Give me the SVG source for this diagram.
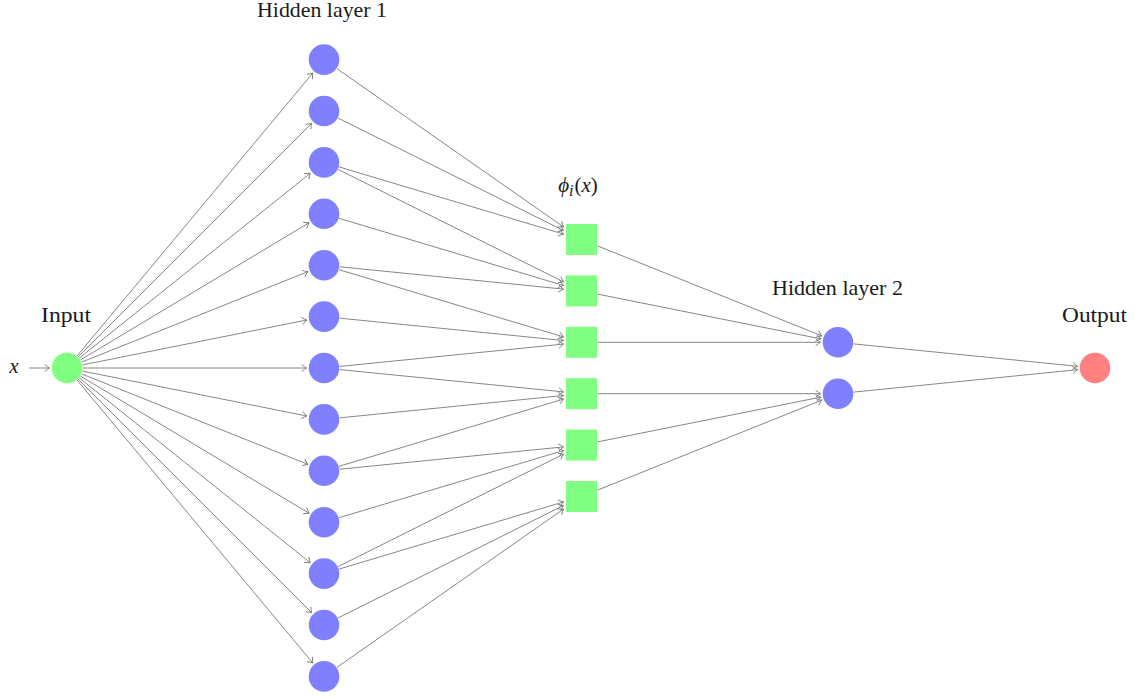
<svg xmlns="http://www.w3.org/2000/svg" width="1139" height="697" viewBox="0 0 1139 697">
<style>
.e{stroke:#787878;stroke-width:0.9;fill:none;marker-end:url(#ar)}
.h{fill:#8080ff}
.sq{fill:#80ff80}
.in{fill:#80ff80}
.out{fill:#ff8080}
.lbl{font-family:"Liberation Serif","DejaVu Serif",serif;font-size:21px;fill:#1a1a1a;text-anchor:middle}
</style>
<defs>
<marker id="ar" markerUnits="userSpaceOnUse" orient="auto" refX="0" refY="0" markerWidth="10" markerHeight="10" overflow="visible">
<path d="M-4.5,-3.3 Q-1.6,-0.9 0,0 Q-1.6,0.9 -4.5,3.3" fill="none" stroke="#787878" stroke-width="0.9" stroke-linecap="round"/>
</marker>
</defs>
<rect width="1139" height="697" fill="#ffffff"/>
<g id="connectors">
<line class="e" x1="29" y1="368" x2="49.5" y2="368"/>
<line class="e" x1="77.1" y1="355.9" x2="312.8" y2="73.0"/>
<line class="e" x1="78.2" y1="356.8" x2="311.6" y2="123.4"/>
<line class="e" x1="79.3" y1="358.1" x2="310.3" y2="173.3"/>
<line class="e" x1="80.5" y1="359.9" x2="309.0" y2="222.8"/>
<line class="e" x1="81.7" y1="362.1" x2="307.8" y2="271.7"/>
<line class="e" x1="82.5" y1="364.9" x2="306.8" y2="320.0"/>
<line class="e" x1="82.8" y1="368" x2="306.5" y2="368"/>
<line class="e" x1="82.5" y1="371.1" x2="306.8" y2="416.0"/>
<line class="e" x1="81.7" y1="373.9" x2="307.8" y2="464.3"/>
<line class="e" x1="80.5" y1="376.1" x2="309.0" y2="513.2"/>
<line class="e" x1="79.3" y1="377.9" x2="310.3" y2="562.7"/>
<line class="e" x1="78.2" y1="379.2" x2="311.6" y2="612.6"/>
<line class="e" x1="77.1" y1="380.1" x2="312.8" y2="663.0"/>
<line class="e" x1="336.95" y1="68.65" x2="563.5" y2="226.9"/>
<line class="e" x1="338.14" y1="118.05" x2="563.5" y2="230.5"/>
<line class="e" x1="339.14" y1="166.93" x2="563.5" y2="234.1"/>
<line class="e" x1="338.14" y1="169.45" x2="563.5" y2="281.9"/>
<line class="e" x1="339.14" y1="218.33" x2="563.5" y2="285.5"/>
<line class="e" x1="339.72" y1="266.77" x2="563.5" y2="289.1"/>
<line class="e" x1="339.14" y1="269.73" x2="563.5" y2="336.9"/>
<line class="e" x1="339.72" y1="318.17" x2="563.5" y2="340.5"/>
<line class="e" x1="339.72" y1="366.43" x2="563.5" y2="344.1"/>
<line class="e" x1="339.72" y1="369.57" x2="563.5" y2="391.9"/>
<line class="e" x1="339.72" y1="417.83" x2="563.5" y2="395.5"/>
<line class="e" x1="339.14" y1="466.27" x2="563.5" y2="399.1"/>
<line class="e" x1="339.72" y1="469.23" x2="563.5" y2="446.9"/>
<line class="e" x1="339.14" y1="517.67" x2="563.5" y2="450.5"/>
<line class="e" x1="338.14" y1="566.55" x2="563.5" y2="454.1"/>
<line class="e" x1="339.14" y1="569.07" x2="563.5" y2="501.9"/>
<line class="e" x1="338.14" y1="617.95" x2="563.5" y2="505.5"/>
<line class="e" x1="336.95" y1="667.35" x2="563.5" y2="509.1"/>
<line class="e" x1="597.5" y1="245.9" x2="821.75" y2="335.8"/>
<line class="e" x1="597.5" y1="294.1" x2="820.84" y2="338.86"/>
<line class="e" x1="597.5" y1="342.3" x2="820.5" y2="342.3"/>
<line class="e" x1="597.5" y1="393.7" x2="820.5" y2="393.7"/>
<line class="e" x1="597.5" y1="441.9" x2="820.84" y2="397.14"/>
<line class="e" x1="597.5" y1="490.1" x2="821.75" y2="400.2"/>
<line class="e" x1="853.7" y1="343.9" x2="1077.6" y2="366.3"/>
<line class="e" x1="853.7" y1="392.1" x2="1077.6" y2="369.7"/>
</g>
<g id="x-label"><text class="lbl" x="14" y="373" font-style="italic" font-size="22">x</text></g>
<g id="input"><circle class="in" cx="67" cy="368" r="15.3"/><text class="lbl" x="66" y="322" textLength="50" lengthAdjust="spacingAndGlyphs">Input</text></g>
<g id="hidden1-label"><text class="lbl" x="322" y="17" textLength="130" lengthAdjust="spacingAndGlyphs">Hidden layer 1</text></g>
<g id="h1-1"><circle class="h" cx="324" cy="59.6" r="15.3"/></g>
<g id="h1-2"><circle class="h" cx="324" cy="111.0" r="15.3"/></g>
<g id="h1-3"><circle class="h" cx="324" cy="162.4" r="15.3"/></g>
<g id="h1-4"><circle class="h" cx="324" cy="213.8" r="15.3"/></g>
<g id="h1-5"><circle class="h" cx="324" cy="265.2" r="15.3"/></g>
<g id="h1-6"><circle class="h" cx="324" cy="316.6" r="15.3"/></g>
<g id="h1-7"><circle class="h" cx="324" cy="368.0" r="15.3"/></g>
<g id="h1-8"><circle class="h" cx="324" cy="419.4" r="15.3"/></g>
<g id="h1-9"><circle class="h" cx="324" cy="470.8" r="15.3"/></g>
<g id="h1-10"><circle class="h" cx="324" cy="522.2" r="15.3"/></g>
<g id="h1-11"><circle class="h" cx="324" cy="573.6" r="15.3"/></g>
<g id="h1-12"><circle class="h" cx="324" cy="625.0" r="15.3"/></g>
<g id="h1-13"><circle class="h" cx="324" cy="676.4" r="15.3"/></g>
<g id="phi-label"><text class="lbl" x="578" y="192" font-size="23"><tspan font-style="italic">ϕ</tspan><tspan font-style="italic" font-size="16" dy="4">i</tspan><tspan dy="-4" dx="1">(</tspan><tspan font-style="italic">x</tspan>)</text></g>
<g id="phi-1"><rect class="sq" x="566" y="224" width="31" height="31"/></g>
<g id="phi-2"><rect class="sq" x="566" y="275.4" width="31" height="31"/></g>
<g id="phi-3"><rect class="sq" x="566" y="326.8" width="31" height="31"/></g>
<g id="phi-4"><rect class="sq" x="566" y="378.2" width="31" height="31"/></g>
<g id="phi-5"><rect class="sq" x="566" y="429.6" width="31" height="31"/></g>
<g id="phi-6"><rect class="sq" x="566" y="481" width="31" height="31"/></g>
<g id="hidden2-label"><text class="lbl" x="837.5" y="295" textLength="131" lengthAdjust="spacingAndGlyphs">Hidden layer 2</text></g>
<g id="h2-1"><circle class="h" cx="838" cy="342.3" r="15.3"/></g>
<g id="h2-2"><circle class="h" cx="838" cy="393.7" r="15.3"/></g>
<g id="output"><circle class="out" cx="1095" cy="368" r="15.3"/><text class="lbl" x="1094.5" y="322" textLength="65" lengthAdjust="spacingAndGlyphs">Output</text></g>
</svg>
